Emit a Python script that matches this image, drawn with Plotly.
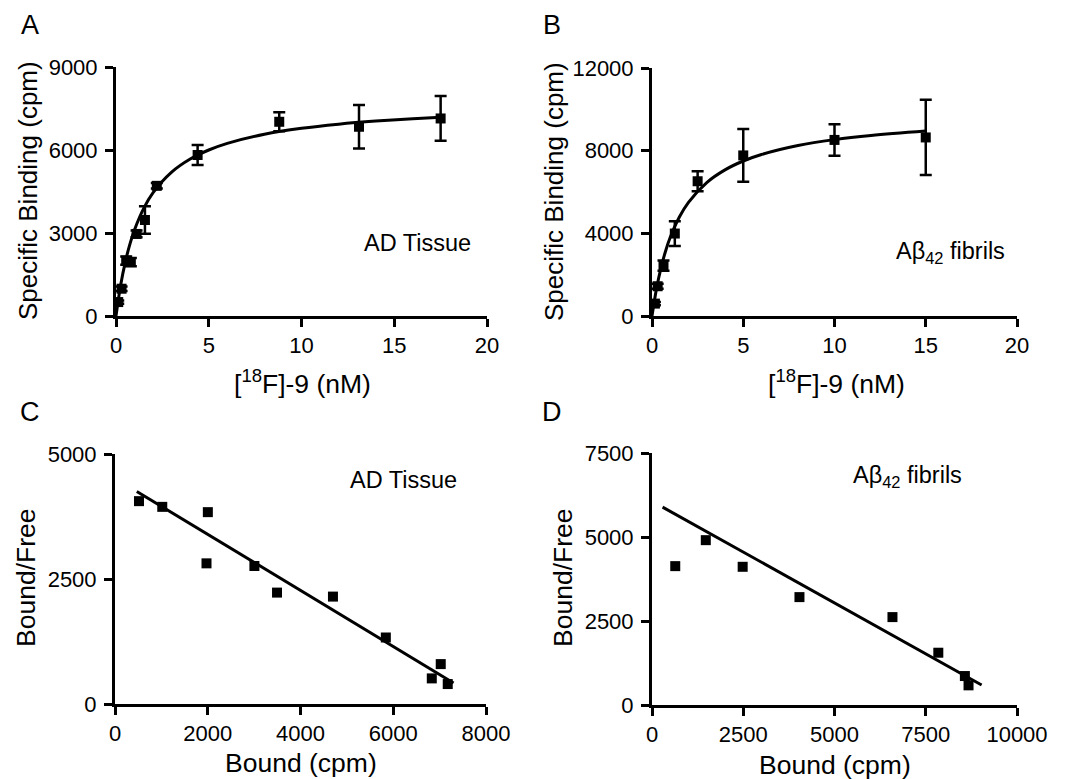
import plotly.graph_objects as go

W, H = 1069, 779
OFF = 8                      # page body margin in the browser
FW, FH = W - OFF, H - OFF    # figure size that fits the window
FONT = "Arial, Liberation Sans, sans-serif"

# ---------------- Data ----------------
# Panel A: saturation binding, AD tissue
conc_A = [0.12, 0.30, 0.55, 0.80, 1.11, 1.56, 2.2, 4.4, 8.8, 13.1, 17.5]
bind_A = [504, 986, 2000, 1950, 2966, 3470, 4705, 5820, 7020, 6840, 7140]
err_A = [60, 80, 150, 150, 120, 500, 100, 360, 340, 790, 810]
curve_x_A = [0, 0.25, 0.5, 0.75, 1, 1.5, 2, 3, 4, 5, 6, 8, 10, 12, 14, 16, 17.5]
curve_y_A = [0, 1114, 1950, 2600, 3120, 3900, 4457, 5200, 5673, 6000, 6240, 6568, 6783, 6933, 7045, 7131, 7184]

# Panel B: saturation binding, Abeta42 fibrils
conc_B = [0.16, 0.31, 0.63, 1.25, 2.5, 5, 10, 15]
bind_B = [600, 1440, 2435, 3990, 6520, 7770, 8520, 8640]
err_B = [80, 120, 250, 600, 480, 1280, 760, 1820]
curve_x_B = [0, 0.25, 0.5, 0.75, 1, 1.5, 2, 3, 4, 5, 6, 8, 10, 12, 15]
curve_y_B = [0, 1338, 2357, 3160, 3808, 4790, 5500, 6457, 7071, 7500, 7816, 8250, 8534, 8735, 8946]

# Panel C: Scatchard, AD tissue
bound_C = [517, 1019, 2002, 1973, 3006, 3494, 4700, 5840, 6831, 7024, 7175]
bf_C = [4057, 3943, 3837, 2813, 2760, 2228, 2148, 1330, 512, 798, 399]
line_x_C = [470, 7300]
line_y_C = [4250, 420]

# Panel D: Scatchard, Abeta42 fibrils
bound_D = [637, 1474, 2484, 4040, 6588, 7844, 8572, 8672]
bf_D = [4133, 4906, 4113, 3211, 2616, 1556, 862, 585]
line_x_D = [290, 9030]
line_y_D = [5890, 595]

# Axis ticks / labels
xt_AB = [0, 5, 10, 15, 20]
yt_A = [0, 3000, 6000, 9000]
yt_B = [0, 4000, 8000, 12000]
xt_C = [0, 2000, 4000, 6000, 8000]
yt_C = [0, 2500, 5000]
xt_D = [0, 2500, 5000, 7500, 10000]
yt_D = [0, 2500, 5000, 7500]


def px_dom(a, b):
    return [(a - OFF) / FW, (b - OFF) / FW]


def py_dom(top, bottom):
    return [1 - (bottom - OFF) / FH, 1 - (top - OFF) / FH]


fig = go.Figure()

# panel boxes in window pixels: (left, right, top, bottom)
boxes = {
    "A": (116, 487, 67, 316),
    "B": (652, 1017, 68, 316),
    "C": (115, 486, 454, 704),
    "D": (652, 1017, 453, 705),
}

mk = dict(symbol="square", size=10, color="black")
eb = lambda arr: dict(type="data", array=arr, visible=True, color="black", thickness=2.5, width=6)
ln = dict(color="black", width=3)

# A
fig.add_trace(go.Scatter(x=curve_x_A, y=curve_y_A, mode="lines", line=dict(**ln, shape="spline"),
                         xaxis="x", yaxis="y", cliponaxis=False, hoverinfo="skip"))
fig.add_trace(go.Scatter(x=conc_A, y=bind_A, mode="markers", marker=mk, error_y=eb(err_A),
                         xaxis="x", yaxis="y", cliponaxis=False))
# B
fig.add_trace(go.Scatter(x=curve_x_B, y=curve_y_B, mode="lines", line=dict(**ln, shape="spline"),
                         xaxis="x2", yaxis="y2", cliponaxis=False, hoverinfo="skip"))
fig.add_trace(go.Scatter(x=conc_B, y=bind_B, mode="markers", marker=mk, error_y=eb(err_B),
                         xaxis="x2", yaxis="y2", cliponaxis=False))
# C
fig.add_trace(go.Scatter(x=line_x_C, y=line_y_C, mode="lines", line=ln,
                         xaxis="x3", yaxis="y3", cliponaxis=False, hoverinfo="skip"))
fig.add_trace(go.Scatter(x=bound_C, y=bf_C, mode="markers", marker=mk,
                         xaxis="x3", yaxis="y3", cliponaxis=False))
# D
fig.add_trace(go.Scatter(x=line_x_D, y=line_y_D, mode="lines", line=ln,
                         xaxis="x4", yaxis="y4", cliponaxis=False, hoverinfo="skip"))
fig.add_trace(go.Scatter(x=bound_D, y=bf_D, mode="markers", marker=mk,
                         xaxis="x4", yaxis="y4", cliponaxis=False))

axcommon = dict(showline=True, linecolor="black", linewidth=3, ticks="outside", ticklen=8,
                tickwidth=3, tickcolor="black", showgrid=False, zeroline=False,
                automargin=False,
                tickfont=dict(family=FONT, size=22, color="black"), fixedrange=True)

specs = [
    ("A", "xaxis", "yaxis", "y", "x", [0, 20], xt_AB, [0, 9000], yt_A),
    ("B", "xaxis2", "yaxis2", "y2", "x2", [0, 20], xt_AB, [0, 12000], yt_B),
    ("C", "xaxis3", "yaxis3", "y3", "x3", [0, 8000], xt_C, [0, 5000], yt_C),
    ("D", "xaxis4", "yaxis4", "y4", "x4", [0, 10000], xt_D, [0, 7500], yt_D),
]
lay = {}
for key, xa, ya, yanchor, xanchor, xr, xtv, yr, ytv in specs:
    l, r, t, b = boxes[key]
    lay[xa] = dict(axcommon, domain=px_dom(l, r), range=xr, tickvals=xtv,
                   ticktext=[str(v) for v in xtv], anchor=yanchor)
    lay[ya] = dict(axcommon, domain=py_dom(t, b), range=yr, tickvals=ytv,
                   ticktext=[str(v) for v in ytv], anchor=xanchor, ticklabelstandoff=3)

fig.update_layout(**lay)

annots = []


def ann(text, x, y, size, angle=0):
    annots.append(dict(text=text, x=(x - OFF) / FW, y=1 - (y - OFF) / FH, xref="paper", yref="paper",
                       showarrow=False, xanchor="center", yanchor="middle", textangle=angle,
                       font=dict(family=FONT, size=size, color="black")))


# panel letters
ann("A", 30, 25, 27)
ann("B", 552, 25, 27)
ann("C", 30, 412, 27)
ann("D", 552, 412, 27)
# x-axis titles
ann("[<sup>18</sup>F]-9 (nM)", 302, 382, 26.5)
ann("[<sup>18</sup>F]-9 (nM)", 836, 382, 26.5)
ann("Bound (cpm)", 301, 763, 26.5)
ann("Bound (cpm)", 835, 765, 26.5)
# y-axis titles
ann("Specific Binding (cpm)", 28, 191, 26, -90)
ann("Specific Binding (cpm)", 554, 192, 26, -90)
ann("Bound/Free", 26, 578, 26.5, -90)
ann("Bound/Free", 563, 578, 26.5, -90)
# in-plot labels
ann("AD Tissue", 417, 243, 23.5)
ann("Aβ<sub>42</sub> fibrils", 950, 253, 23.5)
ann("AD Tissue", 403, 480, 23.5)
ann("Aβ<sub>42</sub> fibrils", 907, 477, 23.5)

fig.update_layout(
    annotations=annots,
    width=FW, height=FH,
    margin=dict(l=0, r=0, t=0, b=0, autoexpand=False),
    paper_bgcolor="white", plot_bgcolor="white",
    showlegend=False,
    font=dict(family=FONT, color="black"),
)

fig.write_html("out.html", config={"displayModeBar": False})
